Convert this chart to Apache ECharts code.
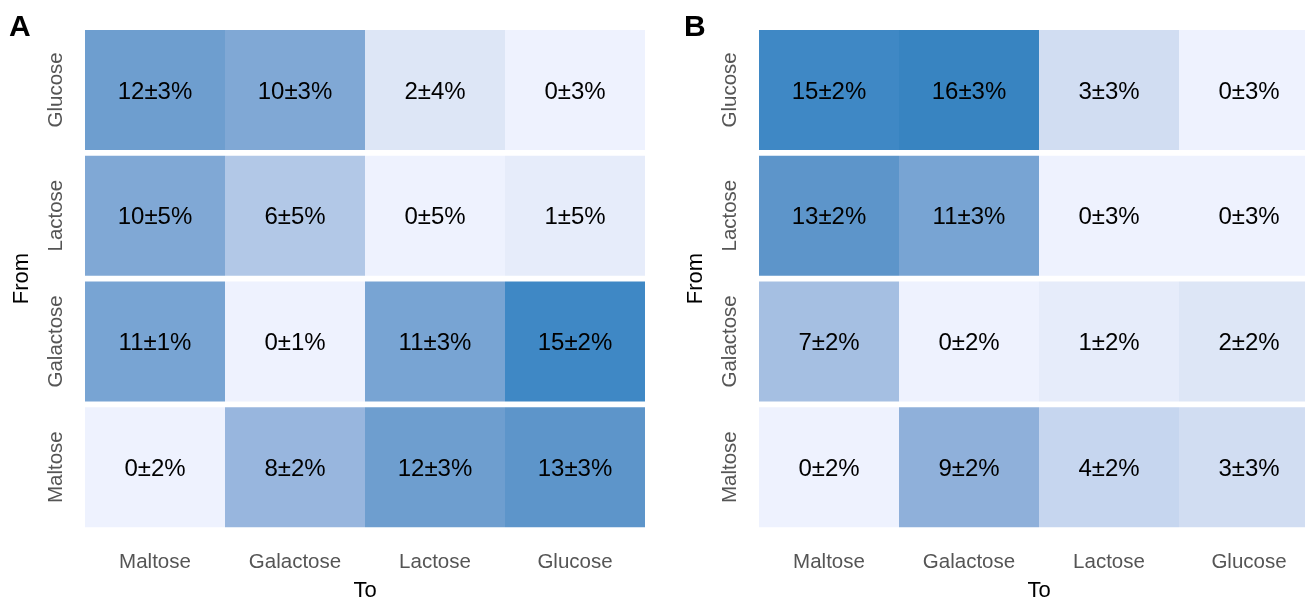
<!DOCTYPE html>
<html>
<head>
<meta charset="utf-8">
<script src="https://cdn.jsdelivr.net/npm/echarts@6/dist/echarts.min.js"></script>
<style>
  html, body { margin: 0; padding: 0; background: #fff; overflow: hidden; }
  #chart { width: 1320px; height: 598px; }
</style>
</head>
<body>
<div id="chart"></div>
<script>
// Transition percentages between sugars (rows: From, columns: To)
const toLabels = ['Maltose', 'Galactose', 'Lactose', 'Glucose'];
const fromLabels = ['Glucose', 'Lactose', 'Galactose', 'Maltose'];

const meanA = [
  [12, 10, 2, 0],
  [10, 6, 0, 1],
  [11, 0, 11, 15],
  [0, 8, 12, 13]
];
const errA = [
  [3, 3, 4, 3],
  [5, 5, 5, 5],
  [1, 1, 3, 2],
  [2, 2, 3, 3]
];
const meanB = [
  [15, 16, 3, 0],
  [13, 11, 0, 0],
  [7, 0, 1, 2],
  [0, 9, 4, 3]
];
const errB = [
  [2, 3, 3, 3],
  [2, 3, 3, 3],
  [2, 2, 2, 2],
  [2, 2, 2, 3]
];

// Blue ramp, one stop per percentage point from 0 to 16
const blueRamp = [
  '#eef2fe', '#e6ecfa', '#dde6f6', '#d1ddf2', '#c6d6ef', '#bccfeb',
  '#b2c8e7', '#a5bfe2', '#98b6de', '#8fb0da', '#80a8d5', '#78a4d3',
  '#6e9ecf', '#5d95ca', '#4d8ec7', '#3f88c5', '#3884c1'
];

const FONT = '"Liberation Sans", Arial, Helvetica, sans-serif';
const ROW_GAP = 5.75;

function toCells(mean, err) {
  const out = [];
  for (let r = 0; r < mean.length; r++) {
    for (let c = 0; c < mean[r].length; c++) {
      out.push([c, r, mean[r][c], err[r][c]]);
    }
  }
  return out;
}

function renderCell(params, api) {
  const center = api.coord([api.value(0), api.value(1)]);
  const size = api.size([1, 1]);
  const h = size[1] - ROW_GAP;
  return {
    type: 'group',
    children: [
      {
        type: 'rect',
        shape: { x: center[0] - size[0] / 2, y: center[1] - h / 2, width: size[0], height: h },
        style: { fill: api.visual('color') }
      },
      {
        type: 'text',
        style: {
          x: center[0], y: center[1] + 2,
          text: api.value(2) + '\u00b1' + api.value(3) + '%',
          align: 'center', verticalAlign: 'middle',
          fill: '#000', fontSize: 24, fontFamily: FONT
        }
      }
    ]
  };
}

function xAxisFor(gridIndex) {
  return {
    type: 'category', gridIndex, data: toLabels, position: 'bottom',
    axisLine: { show: false }, axisTick: { show: false }, splitLine: { show: false },
    axisLabel: { color: '#555', fontSize: 20.5, fontFamily: FONT, margin: 22 },
    name: 'To', nameLocation: 'middle', nameGap: 50,
    nameTextStyle: { color: '#000', fontSize: 22, fontFamily: FONT }
  };
}
function yAxisFor(gridIndex) {
  return {
    type: 'category', gridIndex, data: fromLabels, inverse: true,
    axisLine: { show: false }, axisTick: { show: false }, splitLine: { show: false },
    axisLabel: { color: '#555', fontSize: 20.5, fontFamily: FONT, rotate: 90, margin: 18 },
    name: 'From', nameLocation: 'middle', nameGap: 52,
    nameTextStyle: { color: '#000', fontSize: 22, fontFamily: FONT }
  };
}

const chart = echarts.init(document.getElementById('chart'), null, { renderer: 'canvas' });
chart.setOption({
  backgroundColor: '#fff',
  animation: false,
  grid: [
    { left: 85, top: 27, width: 560, height: 503, outerBoundsMode: 'none', containLabel: false },
    { left: 759, top: 27, width: 560, height: 503, outerBoundsMode: 'none', containLabel: false }
  ],
  xAxis: [xAxisFor(0), xAxisFor(1)],
  yAxis: [yAxisFor(0), yAxisFor(1)],
  visualMap: {
    show: false, type: 'continuous', dimension: 2,
    min: 0, max: 16, seriesIndex: [0, 1],
    inRange: { color: blueRamp }
  },
  graphic: [
    { type: 'text', left: 9, top: 13, style: { text: 'A', fontSize: 30, fontWeight: 'bold', fontFamily: FONT, fill: '#000' } },
    { type: 'text', left: 684, top: 13, style: { text: 'B', fontSize: 30, fontWeight: 'bold', fontFamily: FONT, fill: '#000' } }
  ],
  series: [
    { type: 'custom', xAxisIndex: 0, yAxisIndex: 0, data: toCells(meanA, errA),
      encode: { x: 0, y: 1 }, renderItem: renderCell },
    { type: 'custom', xAxisIndex: 1, yAxisIndex: 1, data: toCells(meanB, errB),
      encode: { x: 0, y: 1 }, renderItem: renderCell }
  ]
});
</script>
</body>
</html>
